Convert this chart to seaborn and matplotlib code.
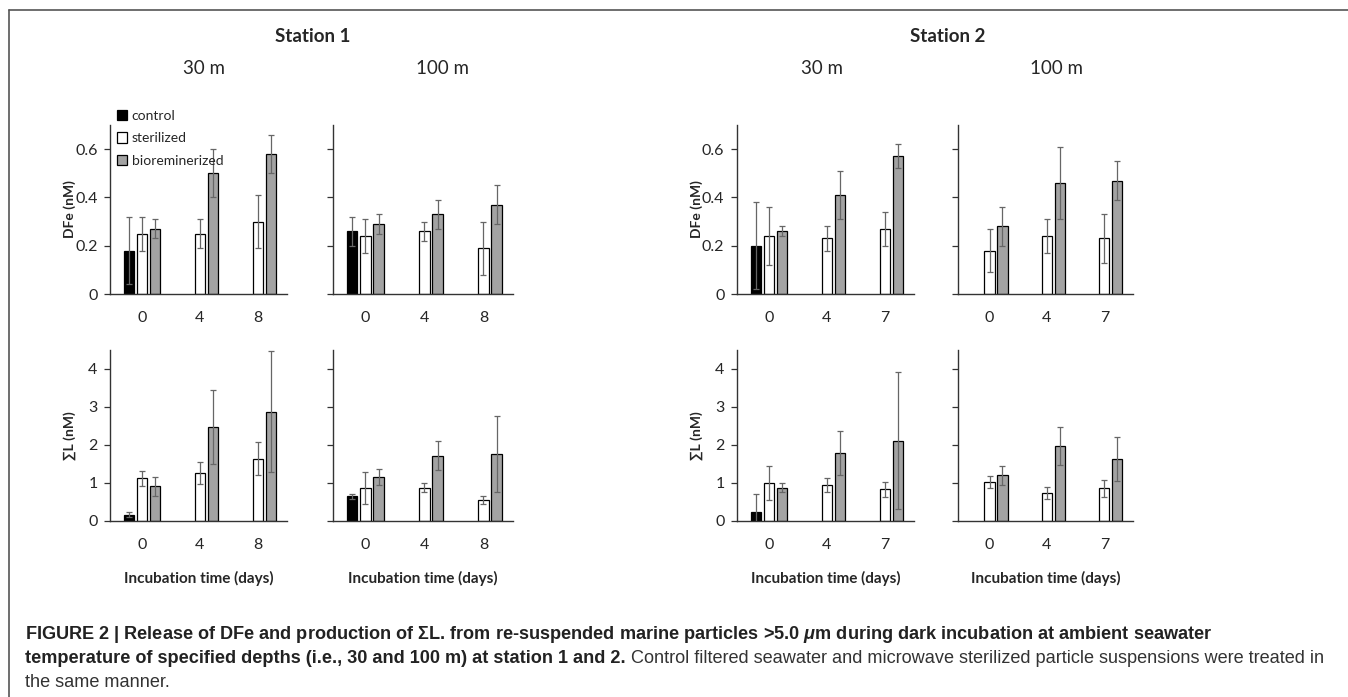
import numpy as np
import pandas as pd
import matplotlib
matplotlib.use("Agg")
import matplotlib.pyplot as plt
import seaborn as sns
from matplotlib.lines import Line2D

nan = np.nan

# panels: station 1 30 m, station 1 100 m, station 2 30 m, station 2 100 m
panel_days = [["0", "4", "8"], ["0", "4", "8"], ["0", "4", "7"], ["0", "4", "7"]]
treatments = ["control", "sterilized", "bioreminerized"]
depths = ["30 m", "100 m", "30 m", "100 m"]
stations = ["Station 1", "Station 2"]

# DFe (nM), mean and error, one row per panel, columns = days
dfe_control = [[0.18, nan, nan], [0.26, nan, nan], [0.20, nan, nan], [nan, nan, nan]]
dfe_control_err = [[0.14, nan, nan], [0.06, nan, nan], [0.18, nan, nan], [nan, nan, nan]]
dfe_sterilized = [[0.25, 0.25, 0.30], [0.24, 0.26, 0.19], [0.24, 0.23, 0.27], [0.18, 0.24, 0.23]]
dfe_sterilized_err = [[0.07, 0.06, 0.11], [0.07, 0.04, 0.11], [0.12, 0.05, 0.07], [0.09, 0.07, 0.10]]
dfe_bio = [[0.27, 0.50, 0.58], [0.29, 0.33, 0.37], [0.26, 0.41, 0.57], [0.28, 0.46, 0.47]]
dfe_bio_err = [[0.04, 0.10, 0.08], [0.04, 0.06, 0.08], [0.02, 0.10, 0.05], [0.08, 0.15, 0.08]]

# sum of ligands (nM)
lig_control = [[0.17, nan, nan], [0.65, nan, nan], [0.23, nan, nan], [nan, nan, nan]]
lig_control_err = [[0.06, nan, nan], [0.06, nan, nan], [0.49, nan, nan], [nan, nan, nan]]
lig_sterilized = [[1.12, 1.26, 1.64], [0.86, 0.88, 0.56], [1.00, 0.94, 0.83], [1.02, 0.74, 0.86]]
lig_sterilized_err = [[0.19, 0.28, 0.44], [0.42, 0.11, 0.10], [0.44, 0.18, 0.20], [0.16, 0.16, 0.22]]
lig_bio = [[0.91, 2.48, 2.88], [1.16, 1.72, 1.77], [0.88, 1.79, 2.11], [1.20, 1.98, 1.62]]
lig_bio_err = [[0.25, 0.97, 1.60], [0.22, 0.39, 1.00], [0.11, 0.58, 1.80], [0.24, 0.50, 0.58]]

colors = {"control": "black", "sterilized": "white", "bioreminerized": "#a3a3a3"}
chart_font = ["Lato", "DejaVu Sans"]
caption_font = "Liberation Sans"

sns.set_theme(style="white")
plt.rcParams["font.family"] = chart_font
plt.rcParams["mathtext.fontset"] = "custom"
plt.rcParams["mathtext.it"] = "Liberation Sans:italic:bold"

W, H = 1348, 697
fig = plt.figure(figsize=(W / 100, H / 100), dpi=100)


def px_axes(x0, x1, y0, y1):
    return fig.add_axes([x0 / W, 1 - y1 / H, (x1 - x0) / W, (y1 - y0) / H])


lefts = [(110, 287), (333, 513), (737, 914), (958, 1133)]
rows = [(125, 294), (350, 521)]

top_sets = [dfe_control, dfe_sterilized, dfe_bio]
top_errs = [dfe_control_err, dfe_sterilized_err, dfe_bio_err]
bot_sets = [lig_control, lig_sterilized, lig_bio]
bot_errs = [lig_control_err, lig_sterilized_err, lig_bio_err]

offset = 0.225
for r, (means, errs, ymax, yticks, ylabel) in enumerate([
        (top_sets, top_errs, 0.7, [0, 0.2, 0.4, 0.6], "DFe (nM)"),
        (bot_sets, bot_errs, 4.5, [0, 1, 2, 3, 4], "∑L (nM)")]):
    for p in range(4):
        ax = px_axes(lefts[p][0], lefts[p][1], rows[r][0], rows[r][1])
        days = panel_days[p]
        recs = []
        for t, name in enumerate(treatments):
            for d, day in enumerate(days):
                v = means[t][p][d]
                if not np.isnan(v):
                    recs.append({"day": day, "treatment": name, "value": v,
                                 "err": errs[t][p][d]})
        df = pd.DataFrame(recs)
        sns.barplot(data=df, x="day", y="value", hue="treatment",
                    order=days, hue_order=treatments, palette=colors,
                    edgecolor="black", linewidth=0.9, errorbar=None,
                    width=3 * offset, gap=0.2, legend=(p == 0 and r == 0), ax=ax)
        # error bars at bar centres
        lookup = {(row.day, row.treatment): row.err for row in df.itertuples()}
        for patch in ax.patches:
            h = patch.get_height()
            if not np.isfinite(h) or patch.get_width() == 0:
                continue
            xc = patch.get_x() + patch.get_width() / 2
            ci = int(round(xc))
            ti = int(round((xc - ci) / offset)) + 1
            key = (days[ci], treatments[ti])
            if key in lookup:
                ax.errorbar(xc, h, yerr=lookup[key], color="#666666", lw=0.9,
                            capsize=2.5, capthick=0.9, zorder=5)
        ax.set_xlim(-0.55, 2.5)
        ax.set_ylim(0, ymax)
        ax.set_yticks(yticks)
        if p in (0, 2):
            ax.set_yticklabels([("%g" % v) for v in yticks])
            ax.set_ylabel(ylabel, fontsize=10, fontweight="bold")
            ax.yaxis.set_label_coords(-0.19, 0.5)
        else:
            ax.set_yticklabels([])
            ax.set_ylabel("")
        if r == 1:
            ax.set_xlabel("Incubation time (days)", fontsize=11, fontweight="bold")
            ax.xaxis.label.set_va("center")
            ax.xaxis.set_label_coords(0.5, -0.335)
        else:
            ax.set_xlabel("")
        sns.despine(ax=ax)
        for s in ("left", "bottom"):
            ax.spines[s].set_color("#333333")
            ax.spines[s].set_linewidth(1.0)
        ax.tick_params(axis="y", direction="out", length=4, width=0.9,
                       color="#333333", labelsize=11.5, pad=5, left=True)
        ax.tick_params(axis="x", length=0, labelsize=11.5, pad=12)
        ax.set_facecolor("white")
        if p == 0 and r == 0:
            handles, labels = ax.get_legend_handles_labels()
            ax.get_legend().remove()
            fig.legend(handles, labels, loc="upper left",
                       bbox_to_anchor=(117 / W, 1 - 110 / H),
                       frameon=False, fontsize=10, handlelength=0.75,
                       handleheight=0.75, handletextpad=0.3, labelspacing=0.75,
                       borderpad=0, borderaxespad=0)

# headers
for i, st in enumerate(stations):
    fig.text([313, 948][i] / W, 1 - 36 / H, st, ha="center", va="center",
             fontsize=13.5, fontweight="bold")
for p in range(4):
    fig.text([204, 442, 822, 1057][p] / W, 1 - 69 / H, depths[p],
             ha="center", va="center", fontsize=13.5)

# frame lines
fig.add_artist(Line2D([9 / W, 1], [1 - 10 / H, 1 - 10 / H], color="#555555", lw=1.2))
fig.add_artist(Line2D([9 / W, 9 / W], [0, 1 - 10 / H], color="#555555", lw=1.2))

# caption
cap1 = ("FIGURE 2 | Release of DFe and production of ΣL. from re-suspended marine "
        "particles >5.0 $\\mu$m during dark incubation at ambient seawater")
cap2b = "temperature of specified depths (i.e., 30 and 100 m) at station 1 and 2."
cap2n = " Control filtered seawater and microwave sterilized particle suspensions were treated in"
cap3 = "the same manner."
x0 = 25 / W
cap_size = 13.1
fig.text(x0, 1 - 639 / H, cap1, fontsize=cap_size, fontweight="bold",
         family=caption_font, color="#222222", va="baseline")
t2 = fig.text(x0, 1 - 663 / H, cap2b, fontsize=cap_size, fontweight="bold",
              family=caption_font, color="#222222", va="baseline")
fig.canvas.draw()
bb = t2.get_window_extent()
fig.text(bb.x1 / W, 1 - 663 / H, cap2n, fontsize=cap_size,
         family=caption_font, color="#333333", va="baseline")
fig.text(x0, 1 - 687 / H, cap3, fontsize=cap_size,
         family=caption_font, color="#333333", va="baseline")

fig.savefig("out.png", dpi=100, facecolor="white")
